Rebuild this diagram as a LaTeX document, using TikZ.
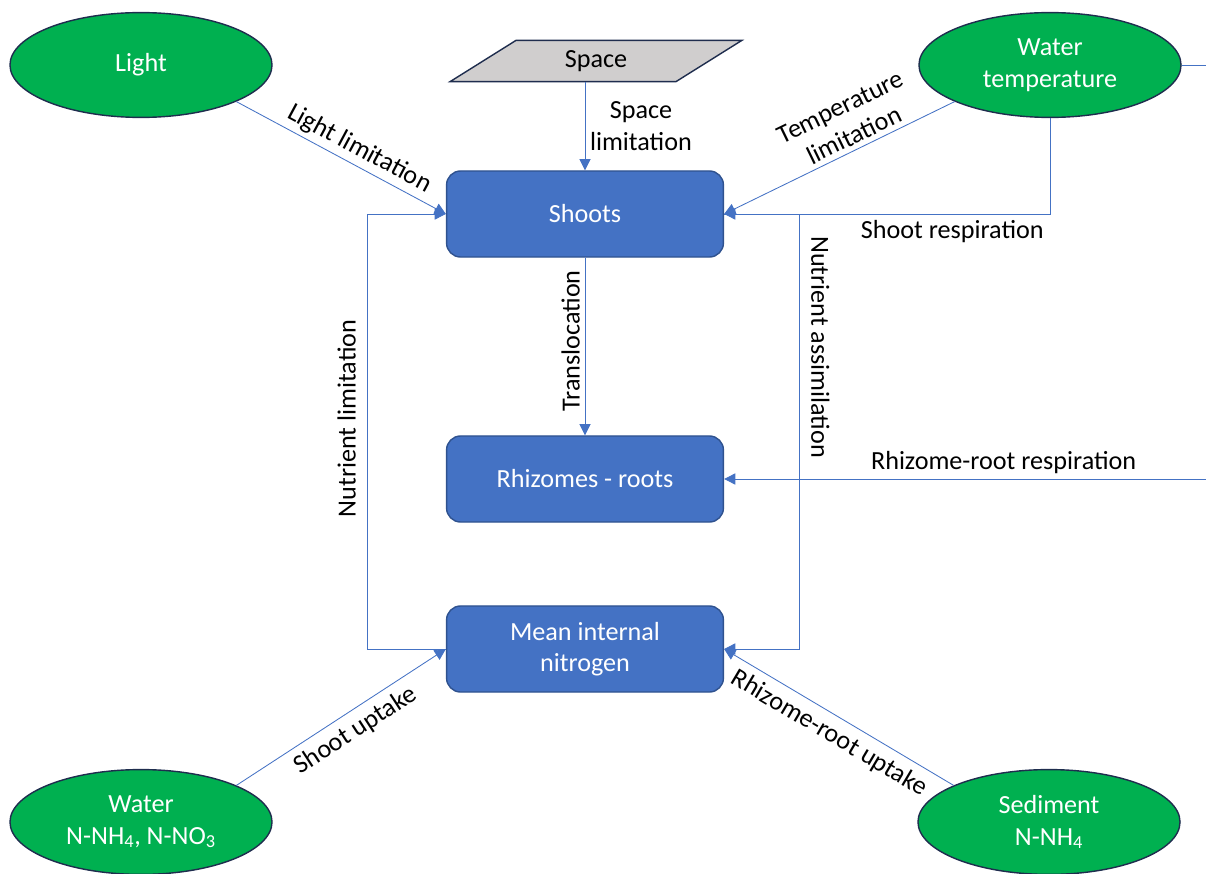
\documentclass[tikz,border=0pt]{standalone}
\usepackage{fontspec}
\setmainfont{Carlito}
\usepackage{tikz}
\usetikzlibrary{positioning, arrows.meta, shapes.geometric}
\definecolor{leafgreen}{HTML}{00B050}
\definecolor{poolblue}{HTML}{4472C4}
\definecolor{pooledge}{HTML}{2F528F}
\definecolor{darknavy}{HTML}{1F2D4E}
\definecolor{spacegray}{HTML}{D0CECE}

\begin{document}
\begin{tikzpicture}[x=0.025cm, y=-0.025cm,
    font=\fontsize{18.6}{22.5}\selectfont,
    driver/.style={ellipse, draw=darknavy, line width=1pt, fill=leafgreen, text=white,
        align=center, minimum width=6.55cm, minimum height=2.62cm, inner sep=0pt},
    pool/.style={rectangle, rounded corners=0.35cm, draw=pooledge, line width=1pt,
        fill=poolblue, text=white, align=center, minimum width=6.92cm, minimum height=2.15cm},
    flow/.style={draw=poolblue, line width=0.6pt, -{Triangle[length=2.8mm, width=2.8mm]}},
    link/.style={draw=poolblue, line width=0.6pt}]
    \useasboundingbox (0,0) rectangle (1206,874);

    % Drivers
    \node[driver] (light) at (141,65) {Light};
    \node[driver] (wtemp) at (1050,65) {Water\\temperature};
    \node[driver] (water) at (141,822) {Water\\N-NH\textsubscript{4}, N-NO\textsubscript{3}};
    \node[driver] (sediment) at (1049,822) {Sediment\\N-NH\textsubscript{4}};
    \node[trapezium, trapezium left angle=46, trapezium right angle=134, trapezium stretches=true,
        draw=darknavy, line width=1pt, fill=spacegray, minimum width=7.33cm, minimum height=1.03cm]
        (space) at (596,61) {Space};

    % Plant pools
    \node[pool] (shoots) at (585,214) {Shoots};
    \node[pool] (rhizomes) at (585,479) {Rhizomes - roots};
    \node[pool] (mean) at (585,649) {Mean internal\\nitrogen};

    \coordinate (wtout) at (1206,65);
    \coordinate (rrsrc) at (1206,479);

    % Limitations
    \draw[flow] (light.-21) -- (shoots.west) node[pos=0.55, sloped, above] {Light limitation};
    \draw[flow] (shoots.north |- space.south) -- (shoots.north) node[midway, right, align=center] {Space\\limitation};
    \draw[flow] (wtemp.-159) -- (shoots.east) node[pos=0.41, sloped, above, align=center] {Temperature\\limitation};
    \draw[flow] (mean.west) -- ++(-78,0) |- (shoots.west) node[pos=0.265, sloped, above=5pt] {Nutrient limitation};

    % Respiration
    \draw[flow] (wtemp.south) |- (shoots.east) node[pos=0.65, below=1pt] {Shoot respiration};
    \draw[link] (wtemp.east) -- (wtout);
    \draw[flow] (rrsrc) -- (rhizomes.east) node[pos=0.42, above] {Rhizome-root respiration};

    % Internal fluxes
    \draw[flow] (shoots.south) -- (rhizomes.north) node[midway, rotate=90, above=4pt] {Translocation};
    \draw[flow] (shoots.east) -- ++(75,0) |- (mean.east) node[pos=0.153, sloped, above=5pt] {Nutrient assimilation};

    % Uptake
    \draw[flow] (water.21) -- (mean.west) node[pos=0.52, sloped, below=2pt] {Shoot uptake};
    \draw[flow] (sediment.159) -- (mean.east) node[midway, sloped, below=2pt] {Rhizome-root uptake};
\end{tikzpicture}
\end{document}
